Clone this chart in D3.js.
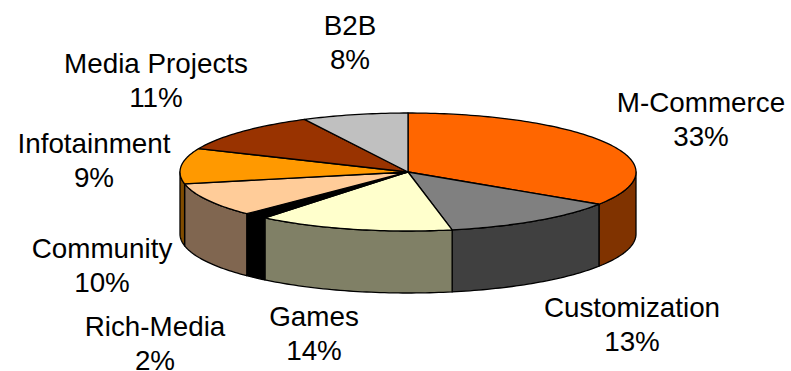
<!DOCTYPE html>
<html>
<head>
<meta charset="utf-8">
<script src="https://cdn.jsdelivr.net/npm/d3@7"></script>
<style>
html, body { margin: 0; padding: 0; background: #fff; }
svg { display: block; }
text { font-family: "Liberation Sans", Arial, sans-serif; font-size: 27.8px; fill: #000; }
</style>
</head>
<body>
<svg id="chart" width="791" height="371"></svg>
<script>
var categories = ['M-Commerce', 'Customization', 'Games', 'Rich-Media', 'Community', 'Infotainment', 'Media Projects', 'B2B']
// printed percentages
var percents = [33, 13, 14, 2, 10, 9, 11, 8]
var shares = [34.2, 12.7, 13.9, 1.7, 9.3, 9.7, 11.0, 7.5]
var topColors = ['#ff6600', '#808080', '#ffffcc', '#000000', '#ffcc99', '#ff9900', '#993300', '#c0c0c0']
var wallColors = ['#803300', '#404040', '#808066', '#000000', '#806650', '#804c00', '#4c1a00', '#606060']
var labelX = [701, 632, 314, 155, 102, 94, 156, 350]
var labelY = [112, 317, 326, 336, 258, 153, 73, 35]

var svg = d3.select('#chart')
var cx = 408, cy = 172, rx = 228, ry = 59, depth = 62

var x = d3.scaleLinear().domain([-1, 1]).range([cx - rx, cx + rx])
var y = d3.scaleLinear().domain([-1, 1]).range([cy - ry, cy + ry])

var pie = d3.pie().sort(null).value(d => d)
var slices = pie(shares)

// angle runs clockwise from the top of the ellipse
function rimPoints(a0, a1, dy){
    var n = Math.max(2, Math.ceil((a1 - a0) / 0.02))
    return d3.range(n + 1).map(i => {
        var a = a0 + (a1 - a0) * i / n
        return [x(Math.sin(a)), y(-Math.cos(a)) + dy]
    })
}

var line = d3.line()

// side walls, only the front half shows
var front0 = Math.PI / 2, front1 = 3 * Math.PI / 2
svg.append('g').selectAll('path')
    .data(slices.filter(d => d.endAngle > front0 && d.startAngle < front1))
    .join('path')
    .attr('d', d => {
        var a0 = Math.max(d.startAngle, front0), a1 = Math.min(d.endAngle, front1)
        var pts = rimPoints(a0, a1, 0).concat(rimPoints(a0, a1, depth).reverse())
        return line(pts) + 'Z'
    })
    .attr('fill', d => wallColors[d.index])
    .attr('stroke', '#000')
    .attr('stroke-width', 1.3)
    .attr('stroke-linejoin', 'round')

// top face
svg.append('g').selectAll('path')
    .data(slices)
    .join('path')
    .attr('d', d => line([[x(0), y(0)]].concat(rimPoints(d.startAngle, d.endAngle, 0))) + 'Z')
    .attr('fill', d => topColors[d.index])
    .attr('stroke', '#000')
    .attr('stroke-width', 1.3)
    .attr('stroke-linejoin', 'round')

var labels = svg.append('g').selectAll('text')
    .data(categories)
    .join('text')
    .attr('text-anchor', 'middle')
    .attr('x', (d, i) => labelX[i])
    .attr('y', (d, i) => labelY[i])

labels.append('tspan').text(d => d)
labels.append('tspan')
    .attr('x', (d, i) => labelX[i])
    .attr('dy', 33.7)
    .text((d, i) => percents[i] + '%')
</script>
</body>
</html>
